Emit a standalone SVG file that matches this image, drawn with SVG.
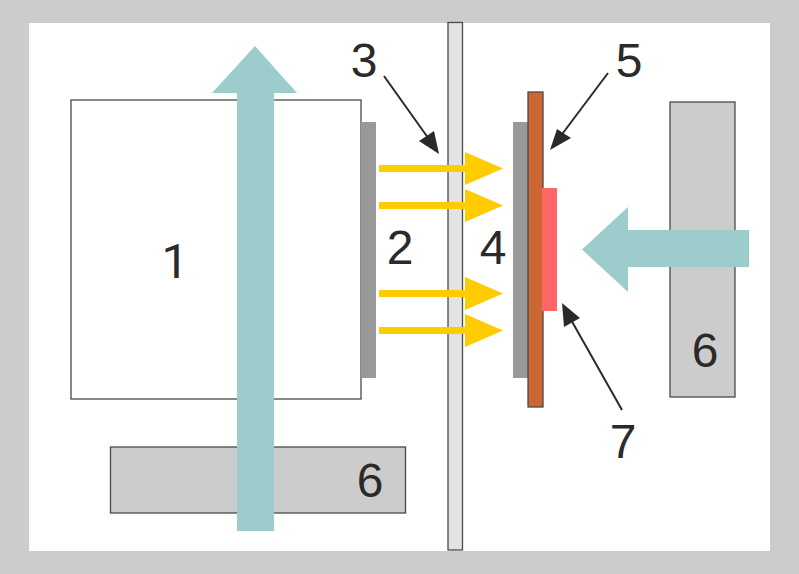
<svg xmlns="http://www.w3.org/2000/svg" width="799" height="574" viewBox="0 0 799 574">
<style>
text{font-family:"Liberation Sans",Arial,sans-serif;font-size:48px;fill:#2b2a29;text-anchor:middle}
.o{stroke:#4a4a4a;stroke-width:1.3}
.gray{fill:#999}
.teal{fill:#9ccccc}
.sun{fill:#fc0}
.ln{stroke:#2b2a29;stroke-width:2;fill:none}
.hd{fill:#2b2a29}
</style>
<rect width="799" height="574" fill="#ccc"/>
<rect x="29" y="23" width="741" height="528" fill="#fff"/>
<g id="node-1"><rect class="o" x="71" y="100" width="290" height="299" fill="#fff"/><text x="175" y="278" style="font-family:Roboto,'Liberation Sans',sans-serif;font-weight:400">1</text></g>
<g id="node-2"><rect class="gray" x="361" y="122" width="15" height="256"/><text x="400" y="264">2</text></g>
<g id="node-6a"><rect class="o" x="110.500" y="447" width="295" height="66" fill="#ccc"/><text x="370" y="497">6</text></g>
<g id="node-6b"><rect class="o" x="670" y="102" width="65" height="295" fill="#ccc"/><text x="705" y="367">6</text></g>
<g id="node-3"><rect class="o" x="448" y="22.500" width="14.500" height="527.500" fill="#e3e3e3"/><text x="364" y="77">3</text></g>
<g id="node-4"><rect class="gray" x="513" y="122" width="15" height="256"/><text x="493" y="264">4</text></g>
<g id="node-5"><rect class="o" x="528" y="92" width="15" height="315" fill="#cc6633"/><text x="629" y="77">5</text></g>
<g id="node-7"><rect x="542" y="188" width="15" height="123" fill="#f66"/><text x="623" y="458">7</text></g>
<g id="connectors">
<path class="sun" id="ray1" d="M379 165H465V152L503 168.500L465 185V172H379Z"/>
<path class="sun" id="ray2" d="M379 202H465V189L503 205.500L465 222V209H379Z"/>
<path class="sun" id="ray3" d="M379 290H465V277L503 293.500L465 310V297H379Z"/>
<path class="sun" id="ray4" d="M379 327H465V314L503 330.500L465 347V334H379Z"/>
<path class="teal" id="flow-up" d="M237 531V93H212L255 46L297 93H274V531Z"/>
<path class="teal" id="flow-left" d="M749 230V267H628V292L582 249.500L628 207V230Z"/>
<path class="ln" d="M384 76L431 142"/><path class="hd" d="M439 154L419 141L434 131Z"/>
<path class="ln" d="M608 73L560 137"/><path class="hd" d="M550 150L557 129L571 138Z"/>
<path class="ln" d="M622 410L570 318"/><path class="hd" d="M562 303L580 318L564 327Z"/>
</g>
</svg>
